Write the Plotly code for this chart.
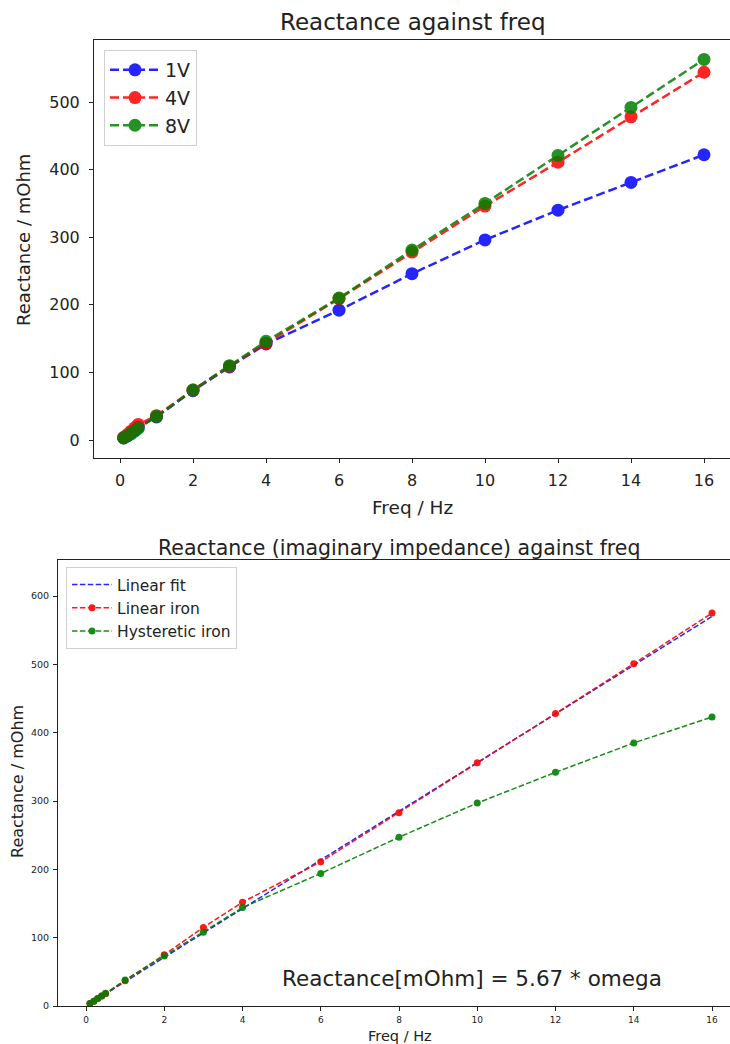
import plotly.graph_objects as go

W, H = 730, 1044

# ---------- data ----------
freq = [0.1, 0.2, 0.3, 0.4, 0.5, 1, 2, 3, 4, 6, 8, 10, 12, 14, 16]

react_1v = [3, 6, 10, 14, 19, 34, 73, 108, 142, 192, 246, 296, 340, 381, 422]
react_4v = [4, 8, 13, 18, 23, 36, 74, 109, 143, 209, 278, 346, 411, 478, 544]
react_8v = [3, 6, 9, 13, 17, 35, 74, 110, 146, 210, 281, 350, 421, 492, 563]

linear_fit = [3.6, 7.1, 10.7, 14.3, 17.8, 35.6, 71.2, 106.9, 142.5, 213.7, 285.0, 356.2, 427.5, 498.7, 570.0]
linear_iron = [3.5, 7.0, 11.0, 14.5, 18.0, 37, 75, 115, 152, 211, 283, 356, 428, 501, 575]
hysteretic_iron = [3.5, 7.0, 11.0, 14.5, 18.5, 38, 73, 108, 144, 194, 247, 297, 342, 385, 423]

xticks = [0, 2, 4, 6, 8, 10, 12, 14, 16]
yticks_top = [0, 100, 200, 300, 400, 500]
yticks_bot = [0, 100, 200, 300, 400, 500, 600]

FONT = "DejaVu Sans"
BLUE, RED, GREEN = "#0000ff", "#ff0000", "#008000"
TXT = "#222222"


def px_x(p):
    return p / W


def px_y(p):
    return 1 - p / H


fig = go.Figure()

# ---------- top chart ----------
for name, vals, col in [("1V", react_1v, BLUE), ("4V", react_4v, RED), ("8V", react_8v, GREEN)]:
    fig.add_trace(go.Scatter(
        x=freq, y=vals, name=name, mode="lines+markers",
        line=dict(color=col, width=2.5, dash="9px,4px"),
        marker=dict(color=col, size=13),
        opacity=0.85,
        xaxis="x", yaxis="y", legend="legend",
    ))

# ---------- bottom chart ----------
fig.add_trace(go.Scatter(
    x=freq, y=linear_fit, name="Linear fit", mode="lines",
    line=dict(color=BLUE, width=1.5, dash="5.5px,2.4px"),
    opacity=0.85,
    xaxis="x2", yaxis="y2", legend="legend2",
))
fig.add_trace(go.Scatter(
    x=freq, y=linear_iron, name="Linear iron", mode="lines+markers",
    line=dict(color=RED, width=1.5, dash="5.5px,2.4px"),
    marker=dict(color=RED, size=7),
    opacity=0.9,
    xaxis="x2", yaxis="y2", legend="legend2",
))
fig.add_trace(go.Scatter(
    x=freq, y=hysteretic_iron, name="Hysteretic iron", mode="lines+markers",
    line=dict(color=GREEN, width=1.5, dash="5.5px,2.4px"),
    marker=dict(color=GREEN, size=7),
    opacity=0.9,
    xaxis="x2", yaxis="y2", legend="legend2",
))

# axis geometry (pixel-based)
top_x_range = [(94 - 120) / 36.5, (730 - 120) / 36.5]
top_y_range = [-(458 - 440) / 0.676, (440 - 40) / 0.676]
bot_x_range = [(58 - 86) / 39.125, (730 - 86) / 39.125]
bot_y_range = [0, (1006 - 560) / 0.6833]

axis_common = dict(
    showgrid=False, zeroline=False, showline=True, linecolor="#222", linewidth=1,
    ticks="outside", ticklen=4, tickcolor="#222", tickwidth=1, automargin=False,
)

fig.update_layout(
    width=W, height=H,
    margin=dict(l=0, r=0, t=0, b=0, autoexpand=False),
    paper_bgcolor="white", plot_bgcolor="white",
    font=dict(family=FONT, color=TXT),
    showlegend=True,
    xaxis=dict(
        domain=[px_x(94), 1], range=top_x_range, anchor="y",
        tickvals=xticks, tickfont=dict(size=16), mirror=True, ticklabelstandoff=4,
        **axis_common,
    ),
    yaxis=dict(
        domain=[px_y(458), px_y(40)], range=top_y_range, anchor="x",
        tickvals=yticks_top, tickfont=dict(size=16), ticklabelstandoff=6,
        **axis_common,
    ),
    xaxis2=dict(
        domain=[px_x(58), 1], range=bot_x_range, anchor="y2",
        tickvals=xticks, tickfont=dict(size=9), mirror=True, ticklabelstandoff=1,
        **axis_common,
    ),
    yaxis2=dict(
        domain=[px_y(1006), px_y(560)], range=bot_y_range, anchor="x2",
        tickvals=yticks_bot, tickfont=dict(size=9.5), ticklabelstandoff=2,
        **axis_common,
    ),
    legend=dict(
        x=px_x(104), y=px_y(50), xanchor="left", yanchor="top",
        bordercolor="#d0d0d0", borderwidth=1, bgcolor="rgba(255,255,255,0.8)",
        font=dict(size=19), itemwidth=50, tracegroupgap=0,
    ),
    legend2=dict(
        x=px_x(66), y=px_y(567), xanchor="left", yanchor="top",
        bordercolor="#d0d0d0", borderwidth=1, bgcolor="rgba(255,255,255,0.8)",
        font=dict(size=15.5), itemwidth=40, tracegroupgap=0,
    ),
    annotations=[
        dict(text="Reactance against freq", x=px_x(413), y=px_y(22),
             xref="paper", yref="paper", showarrow=False,
             xanchor="center", yanchor="middle", font=dict(size=23)),
        dict(text="Freq / Hz", x=px_x(413), y=px_y(507),
             xref="paper", yref="paper", showarrow=False,
             xanchor="center", yanchor="middle", font=dict(size=18.5)),
        dict(text="Reactance / mOhm", x=px_x(24), y=px_y(240),
             xref="paper", yref="paper", showarrow=False, textangle=-90,
             xanchor="center", yanchor="middle", font=dict(size=18)),
        dict(text="Reactance (imaginary impedance) against freq", x=px_x(399), y=px_y(548),
             xref="paper", yref="paper", showarrow=False,
             xanchor="center", yanchor="middle", font=dict(size=20.5)),
        dict(text="Freq / Hz", x=px_x(400), y=px_y(1036),
             xref="paper", yref="paper", showarrow=False, borderpad=0,
             xanchor="center", yanchor="middle", font=dict(size=14.5)),
        dict(text="Reactance / mOhm", x=px_x(17), y=px_y(782),
             xref="paper", yref="paper", showarrow=False, textangle=-90,
             xanchor="center", yanchor="middle", font=dict(size=16)),
        dict(text="Reactance[mOhm] = 5.67 * omega", x=px_x(280), y=px_y(978),
             xref="paper", yref="paper", showarrow=False,
             xanchor="left", yanchor="middle", font=dict(size=21.5)),
    ],
)

fig.write_html(
    "out.html",
    config={"displayModeBar": False},
    post_script="document.body.style.margin='0';document.body.style.overflow='hidden';",
)
